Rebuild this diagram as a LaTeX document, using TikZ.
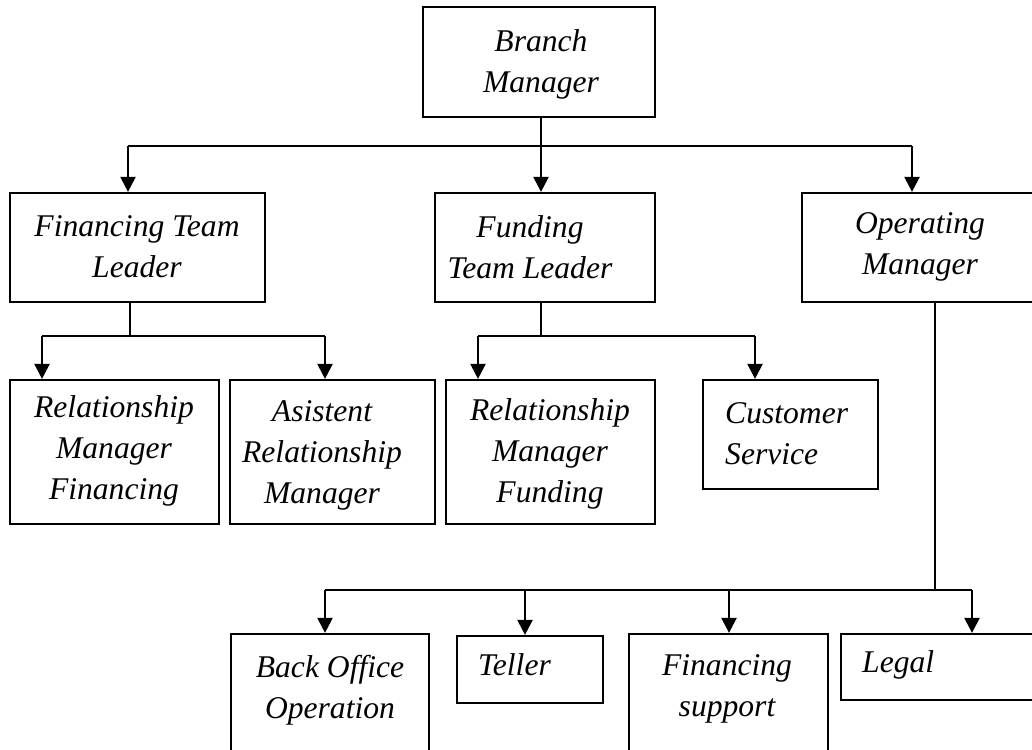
\documentclass[tikz,border=0pt]{standalone}
\usepackage{fontspec}
\setmainfont{Liberation Serif}
\usetikzlibrary{arrows.meta,fit}
\begin{document}
\begin{tikzpicture}[x=1pt,y=-1pt,
  box/.style={draw,line width=2.2pt,rectangle,inner sep=0pt},
  lbl/.style={inner sep=0pt,font=\fontsize{31.6}{41}\selectfont\itshape},
  conn/.style={line width=2.2pt},
  arr/.style={line width=2.2pt,-{Triangle[width=15pt,length=15pt]}}]
\useasboundingbox (0,0) rectangle (1032,749);
\clip (0,0) rectangle (1032,749);
% boxes
\node[box,fit={(423,7) (655,117)}] (bm) {};
\node[box,fit={(10,193) (265,302)}] (ftl) {};
\node[box,fit={(435,193) (655,302)}] (fdl) {};
\node[box,fit={(802,193) (1100,302)}] (om) {};
\node[box,fit={(10,380) (219,524)}] (rmf) {};
\node[box,fit={(230,380) (435,524)}] (arm) {};
\node[box,fit={(446,380) (655,524)}] (rmd) {};
\node[box,fit={(703,380) (878,489)}] (cs) {};
\node[box,fit={(231,634) (429,800)}] (bo) {};
\node[box,fit={(457,636) (603,703)}] (tl) {};
\node[box,fit={(629,634) (828,800)}] (fs) {};
\node[box,fit={(841,634) (1100,700)}] (lg) {};
% labels
\node[lbl,align=center] (bmt) at (541,64) {Branch\\Manager};
\node[lbl,align=center] (ftlt) at (137,247) {Financing Team\\Leader};
\node[lbl,align=center] (fdlt) at (530,247) {Funding\\Team Leader};
\node[lbl,align=center] (omt) at (920,247) {Operating\\Manager};
\node[lbl,align=center] (rmft) at (114,451) {Relationship\\Manager\\Financing};
\node[lbl,align=center] (armt) at (322,455) {Asistent\\Relationship\\Manager};
\node[lbl,align=center] (rmdt) at (550,454) {Relationship\\Manager\\Funding};
\node[lbl,align=left,anchor=west] (cst) at (725,434) {Customer\\Service};
\node[lbl,align=center] (bot) at (330,690) {Back Office\\Operation};
\node[lbl,anchor=west] (tlt) at (478,665) {Teller};
\node[lbl,align=center] (fst) at (727,689) {Financing\\support};
\node[lbl,anchor=west] (lgt) at (862,665) {Legal};
% junctions
\coordinate (j0) at (541,146);
\coordinate (ja) at (128,146);
\coordinate (jc) at (912,146);
\coordinate (k0) at (130,336);
\coordinate (ka) at (42,336);
\coordinate (kb) at (325,336);
\coordinate (m0) at (541,336);
\coordinate (ma) at (478,336);
\coordinate (mb) at (755,336);
\coordinate (n0) at (935,590);
\coordinate (na) at (325,590);
\coordinate (nb) at (525,590);
\coordinate (nc) at (729,590);
\coordinate (nd) at (972,590);
% connectors
\draw[conn] (bm.south -| j0) -- (j0);
\draw[conn] (ja) -- (jc);
\draw[arr] (ja) -- (ja |- ftl.north);
\draw[arr] (j0) -- (j0 |- fdl.north);
\draw[arr] (jc) -- (jc |- om.north);
\draw[conn] (ftl.south -| k0) -- (k0);
\draw[conn] (ka) -- (kb);
\draw[arr] (ka) -- (ka |- rmf.north);
\draw[arr] (kb) -- (kb |- arm.north);
\draw[conn] (fdl.south -| m0) -- (m0);
\draw[conn] (ma) -- (mb);
\draw[arr] (ma) -- (ma |- rmd.north);
\draw[arr] (mb) -- (mb |- cs.north);
\draw[conn] (om.south -| n0) -- (n0);
\draw[conn] (na) -- (nd);
\draw[arr] (na) -- (na |- bo.north);
\draw[arr] (nb) -- (nb |- tl.north);
\draw[arr] (nc) -- (nc |- fs.north);
\draw[arr] (nd) -- (nd |- lg.north);
\end{tikzpicture}
\end{document}
